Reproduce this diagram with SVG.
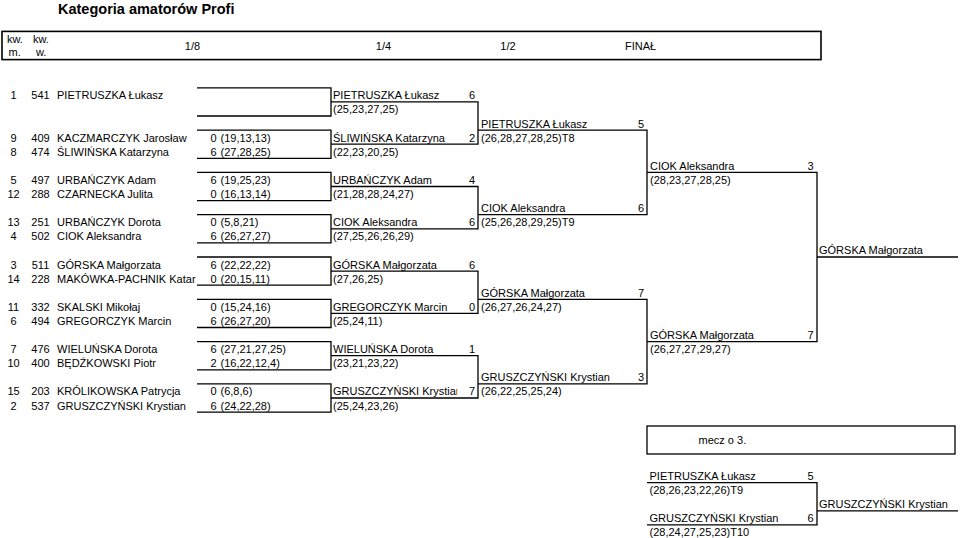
<svg xmlns="http://www.w3.org/2000/svg" width="960" height="538" viewBox="0 0 960 538">
<style>
text{font-family:"Liberation Sans",Arial,Helvetica,sans-serif;font-size:11px;fill:#000}
.title{font-size:14.5px;font-weight:bold}
.m{text-anchor:middle}
.e{text-anchor:end}
.ln{stroke:#000;stroke-width:1.3;fill:none}
.box{stroke:#000;stroke-width:1.6;fill:none}
</style>
<defs>
<clipPath id="c14"><rect x="320" y="380" width="137.2" height="20"/></clipPath>
</defs>
<rect width="960" height="538" fill="#fff"/>
<text class="title" x="58" y="13.5">Kategoria amatorów Profi</text>
<g id="header">
<rect class="box" x="2" y="31.4" width="819" height="28.2"/>
<text x="7" y="42.5">kw.</text><text x="33" y="42.5">kw.</text>
<text x="8.5" y="56">m.</text><text x="36" y="56">w.</text>
<text class="m" x="192.5" y="49.5">1/8</text>
<text class="m" x="383.5" y="49.5">1/4</text>
<text class="m" x="508" y="49.5">1/2</text>
<text class="m" x="640.5" y="49.5">FINAŁ</text>
</g>
<g id="connectors">
<path class="ln" d="M197 87.8H331V116H197"/>
<path class="ln" d="M197 130.1H331V158.3H197"/>
<path class="ln" d="M197 172.4H331V200.6H197"/>
<path class="ln" d="M197 214.7H331V242.9H197"/>
<path class="ln" d="M197 257H331V285.2H197"/>
<path class="ln" d="M197 299.3H331V327.5H197"/>
<path class="ln" d="M197 341.6H331V369.8H197"/>
<path class="ln" d="M197 383.9H331V412.1H197"/>
<path class="ln" d="M331 101.9H478V144.2H331"/>
<path class="ln" d="M331 186.5H478V228.8H331"/>
<path class="ln" d="M331 271.1H478V313.4H331"/>
<path class="ln" d="M331 355.7H478V398H331"/>
<path class="ln" d="M478 130.1H647V214.7H478"/>
<path class="ln" d="M478 299.3H647V383.9H478"/>
<path class="ln" d="M647 172.4H817V341.6H647"/>
<path class="ln" d="M817 257H958"/>
<path class="ln" d="M647 482.6H817V524.9H647"/>
<path class="ln" d="M817 510.8H958"/>
</g>
<g id="r16">
<g id="p1"><text class="m" x="13.5" y="99.3">1</text><text class="m" x="40.5" y="99.3">541</text><text x="57" y="99.3">PIETRUSZKA Łukasz</text></g>
<g id="p9"><text class="m" x="13.5" y="141.6">9</text><text class="m" x="40.5" y="141.6">409</text><text x="57" y="141.6">KACZMARCZYK Jarosław</text><text x="210.5" y="141.6">0</text><text x="220.5" y="141.6">(19,13,13)</text></g>
<g id="p8"><text class="m" x="13.5" y="155.7">8</text><text class="m" x="40.5" y="155.7">474</text><text x="57" y="155.7">ŚLIWIŃSKA Katarzyna</text><text x="210.5" y="155.7">6</text><text x="220.5" y="155.7">(27,28,25)</text></g>
<g id="p5"><text class="m" x="13.5" y="183.9">5</text><text class="m" x="40.5" y="183.9">497</text><text x="57" y="183.9">URBAŃCZYK Adam</text><text x="210.5" y="183.9">6</text><text x="220.5" y="183.9">(19,25,23)</text></g>
<g id="p12"><text class="m" x="13.5" y="198">12</text><text class="m" x="40.5" y="198">288</text><text x="57" y="198">CZARNECKA Julita</text><text x="210.5" y="198">0</text><text x="220.5" y="198">(16,13,14)</text></g>
<g id="p13"><text class="m" x="13.5" y="226.2">13</text><text class="m" x="40.5" y="226.2">251</text><text x="57" y="226.2">URBAŃCZYK Dorota</text><text x="210.5" y="226.2">0</text><text x="220.5" y="226.2">(5,8,21)</text></g>
<g id="p4"><text class="m" x="13.5" y="240.3">4</text><text class="m" x="40.5" y="240.3">502</text><text x="57" y="240.3">CIOK Aleksandra</text><text x="210.5" y="240.3">6</text><text x="220.5" y="240.3">(26,27,27)</text></g>
<g id="p3"><text class="m" x="13.5" y="268.5">3</text><text class="m" x="40.5" y="268.5">511</text><text x="57" y="268.5">GÓRSKA Małgorzata</text><text x="210.5" y="268.5">6</text><text x="220.5" y="268.5">(22,22,22)</text></g>
<g id="p14"><text class="m" x="13.5" y="282.6">14</text><text class="m" x="40.5" y="282.6">228</text><text x="57" y="282.6">MAKÓWKA-PACHNIK Katar</text><text x="210.5" y="282.6">0</text><text x="220.5" y="282.6">(20,15,11)</text></g>
<g id="p11"><text class="m" x="13.5" y="310.8">11</text><text class="m" x="40.5" y="310.8">332</text><text x="57" y="310.8">SKALSKI Mikołaj</text><text x="210.5" y="310.8">0</text><text x="220.5" y="310.8">(15,24,16)</text></g>
<g id="p6"><text class="m" x="13.5" y="324.9">6</text><text class="m" x="40.5" y="324.9">494</text><text x="57" y="324.9">GREGORCZYK Marcin</text><text x="210.5" y="324.9">6</text><text x="220.5" y="324.9">(26,27,20)</text></g>
<g id="p7"><text class="m" x="13.5" y="353.1">7</text><text class="m" x="40.5" y="353.1">476</text><text x="57" y="353.1">WIELUŃSKA Dorota</text><text x="210.5" y="353.1">6</text><text x="220.5" y="353.1">(27,21,27,25)</text></g>
<g id="p10"><text class="m" x="13.5" y="367.2">10</text><text class="m" x="40.5" y="367.2">400</text><text x="57" y="367.2">BĘDŹKOWSKI Piotr</text><text x="210.5" y="367.2">2</text><text x="220.5" y="367.2">(16,22,12,4)</text></g>
<g id="p15"><text class="m" x="13.5" y="395.4">15</text><text class="m" x="40.5" y="395.4">203</text><text x="57" y="395.4">KRÓLIKOWSKA Patrycja</text><text x="210.5" y="395.4">0</text><text x="220.5" y="395.4">(6,8,6)</text></g>
<g id="p2"><text class="m" x="13.5" y="409.5">2</text><text class="m" x="40.5" y="409.5">537</text><text x="57" y="409.5">GRUSZCZYŃSKI Krystian</text><text x="210.5" y="409.5">6</text><text x="220.5" y="409.5">(24,22,28)</text></g>
</g>
<g id="qf">
<g id="qf1"><text x="333" y="99.3">PIETRUSZKA Łukasz</text><text class="e" x="475" y="99.3">6</text><text x="333" y="113.4">(25,23,27,25)</text></g>
<g id="qf2"><text x="333" y="141.6">ŚLIWIŃSKA Katarzyna</text><text class="e" x="475" y="141.6">2</text><text x="333" y="155.7">(22,23,20,25)</text></g>
<g id="qf3"><text x="333" y="183.9">URBAŃCZYK Adam</text><text class="e" x="475" y="183.9">4</text><text x="333" y="198">(21,28,28,24,27)</text></g>
<g id="qf4"><text x="333" y="226.2">CIOK Aleksandra</text><text class="e" x="475" y="226.2">6</text><text x="333" y="240.3">(27,25,26,26,29)</text></g>
<g id="qf5"><text x="333" y="268.5">GÓRSKA Małgorzata</text><text class="e" x="475" y="268.5">6</text><text x="333" y="282.6">(27,26,25)</text></g>
<g id="qf6"><text x="333" y="310.8">GREGORCZYK Marcin</text><text class="e" x="475" y="310.8">0</text><text x="333" y="324.9">(25,24,11)</text></g>
<g id="qf7"><text x="333" y="353.1">WIELUŃSKA Dorota</text><text class="e" x="475" y="353.1">1</text><text x="333" y="367.2">(23,21,23,22)</text></g>
<g id="qf8"><text x="333" y="395.4" clip-path="url(#c14)">GRUSZCZYŃSKI Krystian</text><text class="e" x="475" y="395.4">7</text><text x="333" y="409.5">(25,24,23,26)</text></g>
</g>
<g id="sf">
<g id="sf1"><text x="481" y="127.5">PIETRUSZKA Łukasz</text><text class="e" x="644" y="127.5">5</text><text x="481" y="141.6">(26,28,27,28,25)T8</text></g>
<g id="sf2"><text x="481" y="212.1">CIOK Aleksandra</text><text class="e" x="644" y="212.1">6</text><text x="481" y="226.2">(25,26,28,29,25)T9</text></g>
<g id="sf3"><text x="481" y="296.7">GÓRSKA Małgorzata</text><text class="e" x="644" y="296.7">7</text><text x="481" y="310.8">(26,27,26,24,27)</text></g>
<g id="sf4"><text x="481" y="381.3">GRUSZCZYŃSKI Krystian</text><text class="e" x="644" y="381.3">3</text><text x="481" y="395.4">(26,22,25,25,24)</text></g>
</g>
<g id="final">
<g id="f1"><text x="650" y="169.8">CIOK Aleksandra</text><text class="e" x="813.5" y="169.8">3</text><text x="650" y="183.9">(28,23,27,28,25)</text></g>
<g id="f2"><text x="650" y="339">GÓRSKA Małgorzata</text><text class="e" x="813.5" y="339">7</text><text x="650" y="353.1">(26,27,27,29,27)</text></g>
<g id="winner"><text x="819" y="254.4">GÓRSKA Małgorzata</text></g>
</g>
<g id="third">
<g id="third-label"><rect x="647" y="426" width="308" height="28" fill="none" stroke="#000" stroke-width="1.3"/><text x="698.5" y="443.5">mecz o 3.</text></g>
<g id="t1"><text x="649.5" y="480">PIETRUSZKA Łukasz</text><text class="e" x="813.5" y="480">5</text><text x="649.5" y="494.1">(28,26,23,22,26)T9</text></g>
<g id="t2"><text x="649.5" y="522.3">GRUSZCZYŃSKI Krystian</text><text class="e" x="813.5" y="522.3">6</text><text x="649.5" y="536.4">(28,24,27,25,23)T10</text></g>
<g id="t-winner"><text x="819" y="508.2">GRUSZCZYŃSKI Krystian</text></g>
</g>
</svg>
